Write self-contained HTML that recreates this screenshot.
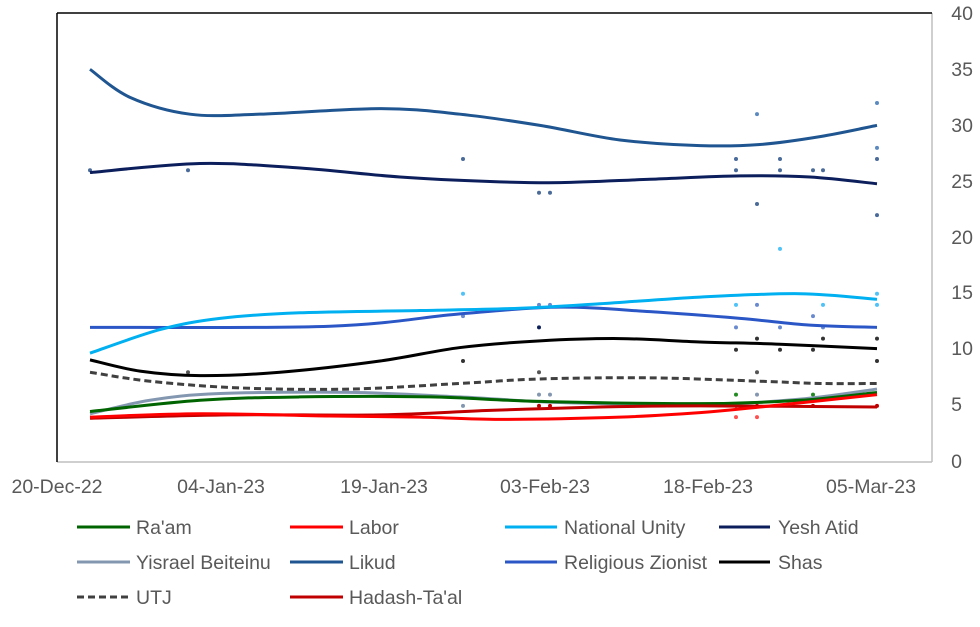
<!DOCTYPE html>
<html><head><meta charset="utf-8"><style>
body{margin:0;background:#fff;}
svg text{font-family:"Liberation Sans",sans-serif;}
</style></head><body>
<svg id="c" width="980" height="622" xmlns="http://www.w3.org/2000/svg">
<rect width="980" height="622" fill="#fff"/>
<line x1="57" y1="462" x2="932" y2="462" stroke="#bfbfbf" stroke-width="1.5"/>
<line x1="932" y1="13" x2="932" y2="462" stroke="#bfbfbf" stroke-width="1.5"/>
<line x1="57" y1="13" x2="932" y2="13" stroke="#000" stroke-width="1.5"/>
<line x1="57" y1="13" x2="57" y2="462" stroke="#000" stroke-width="1.5"/>
<g font-size="19.5" fill="#595959" text-anchor="end">
<text x="973" y="20">40</text><text x="973" y="76">35</text><text x="973" y="132">30</text>
<text x="973" y="188">25</text><text x="973" y="244">20</text><text x="973" y="299">15</text>
<text x="973" y="355">10</text><text x="962" y="411">5</text><text x="962" y="468">0</text>
</g>
<g font-size="19.5" fill="#595959" text-anchor="middle">
<text x="57" y="493">20-Dec-22</text><text x="221" y="493">04-Jan-23</text><text x="384" y="493">19-Jan-23</text>
<text x="545" y="493">03-Feb-23</text><text x="708" y="493">18-Feb-23</text><text x="871" y="493">05-Mar-23</text>
</g>
<g id="dots"></g>
<g id="lines"></g>
<g font-size="19.5" fill="#595959">
<line x1="77" y1="527" x2="130" y2="527" stroke="#006400" stroke-width="3"/><text x="136" y="534">Ra'am</text>
<line x1="290" y1="527" x2="343" y2="527" stroke="#ff0000" stroke-width="3"/><text x="349" y="534">Labor</text>
<line x1="505" y1="527" x2="557" y2="527" stroke="#00b0f0" stroke-width="3"/><text x="564" y="534">National Unity</text>
<line x1="719" y1="527" x2="770" y2="527" stroke="#0c1f5c" stroke-width="3"/><text x="778" y="534">Yesh Atid</text>
<line x1="77" y1="562" x2="130" y2="562" stroke="#8497b0" stroke-width="3"/><text x="136" y="569">Yisrael Beiteinu</text>
<line x1="290" y1="562" x2="343" y2="562" stroke="#1f5590" stroke-width="3"/><text x="349" y="569">Likud</text>
<line x1="505" y1="562" x2="557" y2="562" stroke="#2a56c6" stroke-width="3"/><text x="564" y="569">Religious Zionist</text>
<line x1="719" y1="562" x2="770" y2="562" stroke="#000" stroke-width="3"/><text x="778" y="569">Shas</text>
<line x1="77" y1="597" x2="130" y2="597" stroke="#404040" stroke-width="3" stroke-dasharray="7,4"/><text x="136" y="604">UTJ</text>
<line x1="290" y1="597" x2="343" y2="597" stroke="#c00000" stroke-width="3"/><text x="349" y="604">Hadash-Ta'al</text>
</g>
</svg>
<script>
function Y(v){return 462-11.22*v;}
var S=[
["#8497b0",0,[[90,4.3],[150,5.5],[220,6.1],[350,6.2],[460,5.8],[560,5.3],[700,5.1],[800,5.6],[877,6.5]]],
["#006400",0,[[90,4.5],[200,5.5],[300,5.8],[430,5.8],[540,5.4],[700,5.2],[800,5.5],[877,6.2]]],
["#c00000",0,[[90,3.9],[230,4.2],[380,4.2],[490,4.6],[600,4.9],[700,5],[877,4.9]]],
["#ff0000",0,[[90,4],[200,4.3],[330,4.1],[420,4.0],[500,3.8],[620,4],[700,4.4],[760,4.9],[877,6]]],
["#404040",1,[[90,8],[150,7.2],[240,6.6],[350,6.5],[460,7.0],[540,7.4],[650,7.5],[760,7.2],[820,7],[877,7]]],
["#000000",0,[[90,9.1],[140,8.1],[200,7.7],[280,8.0],[380,9.0],[460,10.2],[540,10.8],[620,11],[700,10.7],[780,10.5],[877,10.1]]],
["#2a56c6",0,[[90,12],[330,12.1],[460,13.2],[560,13.8],[650,13.4],[740,12.8],[810,12.2],[877,12]]],
["#00b0f0",0,[[90,9.7],[160,11.8],[220,12.8],[300,13.3],[420,13.5],[520,13.7],[600,14.1],[700,14.7],[800,15],[877,14.5]]],
["#0c1f5c",0,[[90,25.8],[200,26.6],[300,26.2],[400,25.4],[490,25],[560,24.9],[650,25.2],[740,25.5],[810,25.4],[877,24.8]]],
["#1f5590",0,[[90,35],[130,32.5],[190,31],[260,31],[380,31.5],[460,31],[540,30],[620,28.7],[700,28.2],[760,28.3],[820,29],[877,30]]]
];
var ns="http://www.w3.org/2000/svg",L=document.getElementById("lines");
S.forEach(function(s){var p=s[2].map(function(q){return [q[0],Y(q[1])];});
var d="M"+p[0][0]+","+p[0][1];
for(var i=0;i<p.length-1;i++){var p0=p[i-1]||p[i],p1=p[i],p2=p[i+1],p3=p[i+2]||p2;
d+=" C"+(p1[0]+(p2[0]-p0[0])/6)+","+(p1[1]+(p2[1]-p0[1])/6)+" "+(p2[0]-(p3[0]-p1[0])/6)+","+(p2[1]-(p3[1]-p1[1])/6)+" "+p2[0]+","+p2[1];}
var e=document.createElementNS(ns,"path");e.setAttribute("d",d);e.setAttribute("fill","none");
e.setAttribute("stroke",s[0]);e.setAttribute("stroke-width","3");if(s[1])e.setAttribute("stroke-dasharray","7,4");L.appendChild(e);});
var D=[[90,26,"#4a6a9a"],[188,26,"#4a6a9a"],[463,27,"#4a6a9a"],[539,24,"#4a6a9a"],[550,24,"#4a6a9a"],[736,27,"#4a6a9a"],[736,26,"#4a6a9a"],[757,31,"#5b8ac0"],[757,23,"#4a6a9a"],[780,27,"#4a6a9a"],[780,26,"#4a6a9a"],[813,26,"#4a6a9a"],[823,26,"#4a6a9a"],[877,32,"#5b8ac0"],[877,28,"#5b8ac0"],[877,27,"#4a6a9a"],[877,22,"#4a6a9a"],
[463,15,"#4fc3f7"],[780,19,"#4fc3f7"],[736,14,"#4fc3f7"],[757,14,"#6a8ad0"],[823,14,"#4fc3f7"],[877,15,"#4fc3f7"],[877,14,"#4fc3f7"],[539,14,"#6a8ad0"],[550,14,"#6a8ad0"],[463,13,"#6a8ad0"],
[539,12,"#0c1f5c"],[736,12,"#6a8ad0"],[780,12,"#6a8ad0"],[813,13,"#6a8ad0"],[823,12,"#6a8ad0"],
[463,9,"#333"],[736,10,"#333"],[757,11,"#333"],[780,10,"#333"],[813,10,"#333"],[823,11,"#333"],[877,11,"#333"],[877,9,"#333"],[539,8,"#555"],[757,8,"#555"],[188,8,"#555"],
[736,6,"#228b22"],[813,6,"#228b22"],[539,6,"#8497b0"],[550,6,"#8497b0"],[757,6,"#8497b0"],[463,5,"#8497b0"],
[539,5,"#c00000"],[550,5,"#c00000"],[736,5,"#c00000"],[757,5,"#c00000"],[813,5,"#c00000"],[877,5,"#c00000"],[736,4,"#ff5050"],[757,4,"#ff5050"]];
var G=document.getElementById("dots");
D.forEach(function(q){var c=document.createElementNS(ns,"circle");c.setAttribute("cx",q[0]);c.setAttribute("cy",Y(q[1]));c.setAttribute("r","2");c.setAttribute("fill",q[2]);G.appendChild(c);});
</script>
</body></html>
